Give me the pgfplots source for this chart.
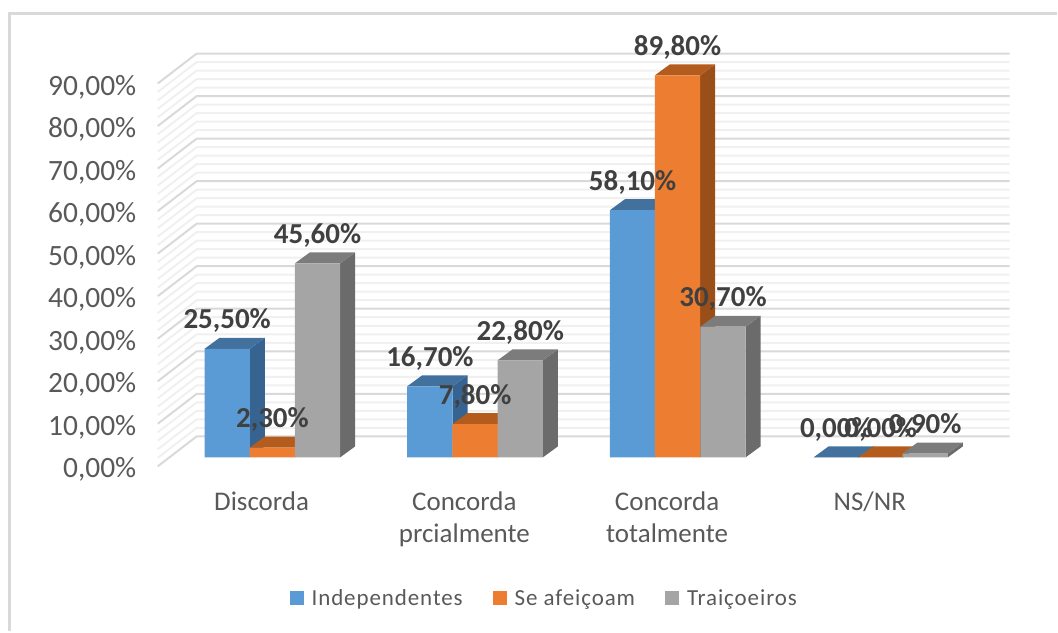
\documentclass[border=0pt]{standalone}
\usepackage{fontspec}
\setmainfont{Carlito}
\newfontfamily\lgfont[LetterSpace=4]{Carlito}
\usepackage{pgfplots}
\usepackage{pgfplotstable}
\pgfplotsset{compat=1.18}
\definecolor{fb}{HTML}{5B9BD5}\definecolor{tb}{HTML}{41719C}\definecolor{sb}{HTML}{376390}
\definecolor{fo}{HTML}{ED7D31}\definecolor{to}{HTML}{B35C1E}\definecolor{so}{HTML}{9A4F19}
\definecolor{fg}{HTML}{A5A5A5}\definecolor{tg}{HTML}{7C7C7C}\definecolor{sg}{HTML}{6B6B6B}
\definecolor{txt}{HTML}{595959}\definecolor{lab}{HTML}{404040}
% x = centre of the bar's front face in px, v = value in %
\pgfplotstableread{
x v
227.5 25.5
430.5 16.7
633.5 58.1
837.5 0.0
}\indep
\pgfplotstableread{
x v
272.8 2.3
475.8 7.8
678.5 89.8
882.0 0.0
}\afeic
\pgfplotstableread{
x v
318.0 45.6
521.0 22.8
724.0 30.7
926.5 0.9
}\traic
% side and top faces of one bar: centre x, value, side colour, top colour
\newcommand\faces[4]{%
 \pgfmathsetmacro\xa{#1-22.7}\pgfmathsetmacro\xb{#1+22.7}%
 \pgfmathsetmacro\xc{#1-7.7}\pgfmathsetmacro\xd{#1+37.7}%
 \pgfmathsetmacro\ya{#2+2.582}%
 \addplot[fill=#3,draw=none,forget plot] coordinates {(\xb,0) (\xd,2.582) (\xd,\ya) (\xb,#2)} --cycle;
 \addplot[fill=#4,draw=none,forget plot] coordinates {(\xa,#2) (\xb,#2) (\xd,\ya) (\xc,\ya)} --cycle;
}
\begin{document}
\begin{tikzpicture}
\begin{axis}[
 scale only axis, width=1058pt, height=632pt,
 xmin=0, xmax=1058, ymin=-40.85, ymax=107.51,
 axis line style={draw=none}, tick style={draw=none},
 clip=false,
 ytick={0,10,...,90},
 yticklabel={\pgfmathprintnumber{\tick}\%},
 yticklabel style={/pgf/number format/.cd,fixed,fixed zerofill,precision=2,use comma,assume math mode=true,
   /tikz/.cd,font=\fontsize{29.5}{32}\selectfont,text=txt,anchor=east,xshift=140pt,yshift=-12.5pt},
 xtick={262,465,668,871},
 xticklabels={Discorda,Concorda\\prcialmente,Concorda\\totalmente,NS/NR},
 xticklabel style={align=center,font=\fontsize{27}{32}\selectfont,text=txt,anchor=north,yshift=143pt},
 legend columns=3,
 legend style={at={(545/1058,1-599/632)},anchor=center,draw=none,fill=none,
   font=\lgfont\fontsize{23}{28}\selectfont,text=txt,
   /tikz/every even column/.append style={column sep=28pt}},
 legend image code/.code={\fill[#1] (0pt,-7pt) rectangle (14pt,7pt);\path (20pt,0pt);},
]
% frame
\draw[color=black!15,line width=3pt] (axis cs:9.5,-40.85) -- (axis cs:9.5,{(458-13.5)/4.26}) -- (axis cs:1058,{(458-13.5)/4.26});
% grid of the back wall and the left wall
\pgfplotsinvokeforeach{2,4,6,8,12,14,16,18,22,24,26,28,32,34,36,38,42,44,46,48,52,54,56,58,62,64,66,68,72,74,76,78,82,84,86,88}{
 \addplot[color=black!6,line width=2pt,forget plot] table[row sep=\\,y expr=\thisrow{y}+#1]{x y\\158 -2.11\\197 4.93\\1011 4.93\\};
}
\pgfplotsinvokeforeach{0,10,20,30,40,50,60,70,80,90}{
 \addplot[color=black!15,line width=2pt,forget plot] table[row sep=\\,y expr=\thisrow{y}+#1]{x y\\158 -2.11\\197 4.93\\1011 4.93\\};
}
% Independentes
\pgfplotstableforeachcolumnelement{x}\of\indep\as\cx{\pgfplotstablegetelem{\pgfplotstablerow}{v}\of\indep\edef\cv{\pgfplotsretval}\faces{\cx}{\cv}{sb}{tb}}
\addplot[ybar,bar width=45.4,bar shift=0pt,fill=fb,draw=none] table[x=x,y=v]{\indep};
\addlegendentry{Independentes}
\pgfplotstableforeachcolumnelement{x}\of\afeic\as\cx{\pgfplotstablegetelem{\pgfplotstablerow}{v}\of\afeic\edef\cv{\pgfplotsretval}\faces{\cx}{\cv}{so}{to}}
\addplot[ybar,bar width=45.4,bar shift=0pt,fill=fo,draw=none] table[x=x,y=v]{\afeic};
\addlegendentry{Se afeiçoam}
\pgfplotstableforeachcolumnelement{x}\of\traic\as\cx{\pgfplotstablegetelem{\pgfplotstablerow}{v}\of\traic\edef\cv{\pgfplotsretval}\faces{\cx}{\cv}{sg}{tg}}
\addplot[ybar,bar width=45.4,bar shift=0pt,fill=fg,draw=none] table[x=x,y=v]{\traic};
\addlegendentry{Traiçoeiros}
% data labels on top of everything
\pgfplotsset{lbl/.style={draw=none,mark=none,forget plot,point meta=y,
  nodes near coords={\pgfmathprintnumber[fixed,fixed zerofill,precision=2,use comma,assume math mode=true]{\pgfplotspointmeta}\%},
  every node near coord/.append style={anchor=center,yshift=28pt,font=\fontsize{29}{32}\selectfont\bfseries,text=lab}}}
\addplot[lbl] table[x=x,y=v]{\indep};
\addplot[lbl] table[x=x,y=v]{\afeic};
\addplot[lbl] table[x=x,y=v]{\traic};
\end{axis}
\end{tikzpicture}
\end{document}
